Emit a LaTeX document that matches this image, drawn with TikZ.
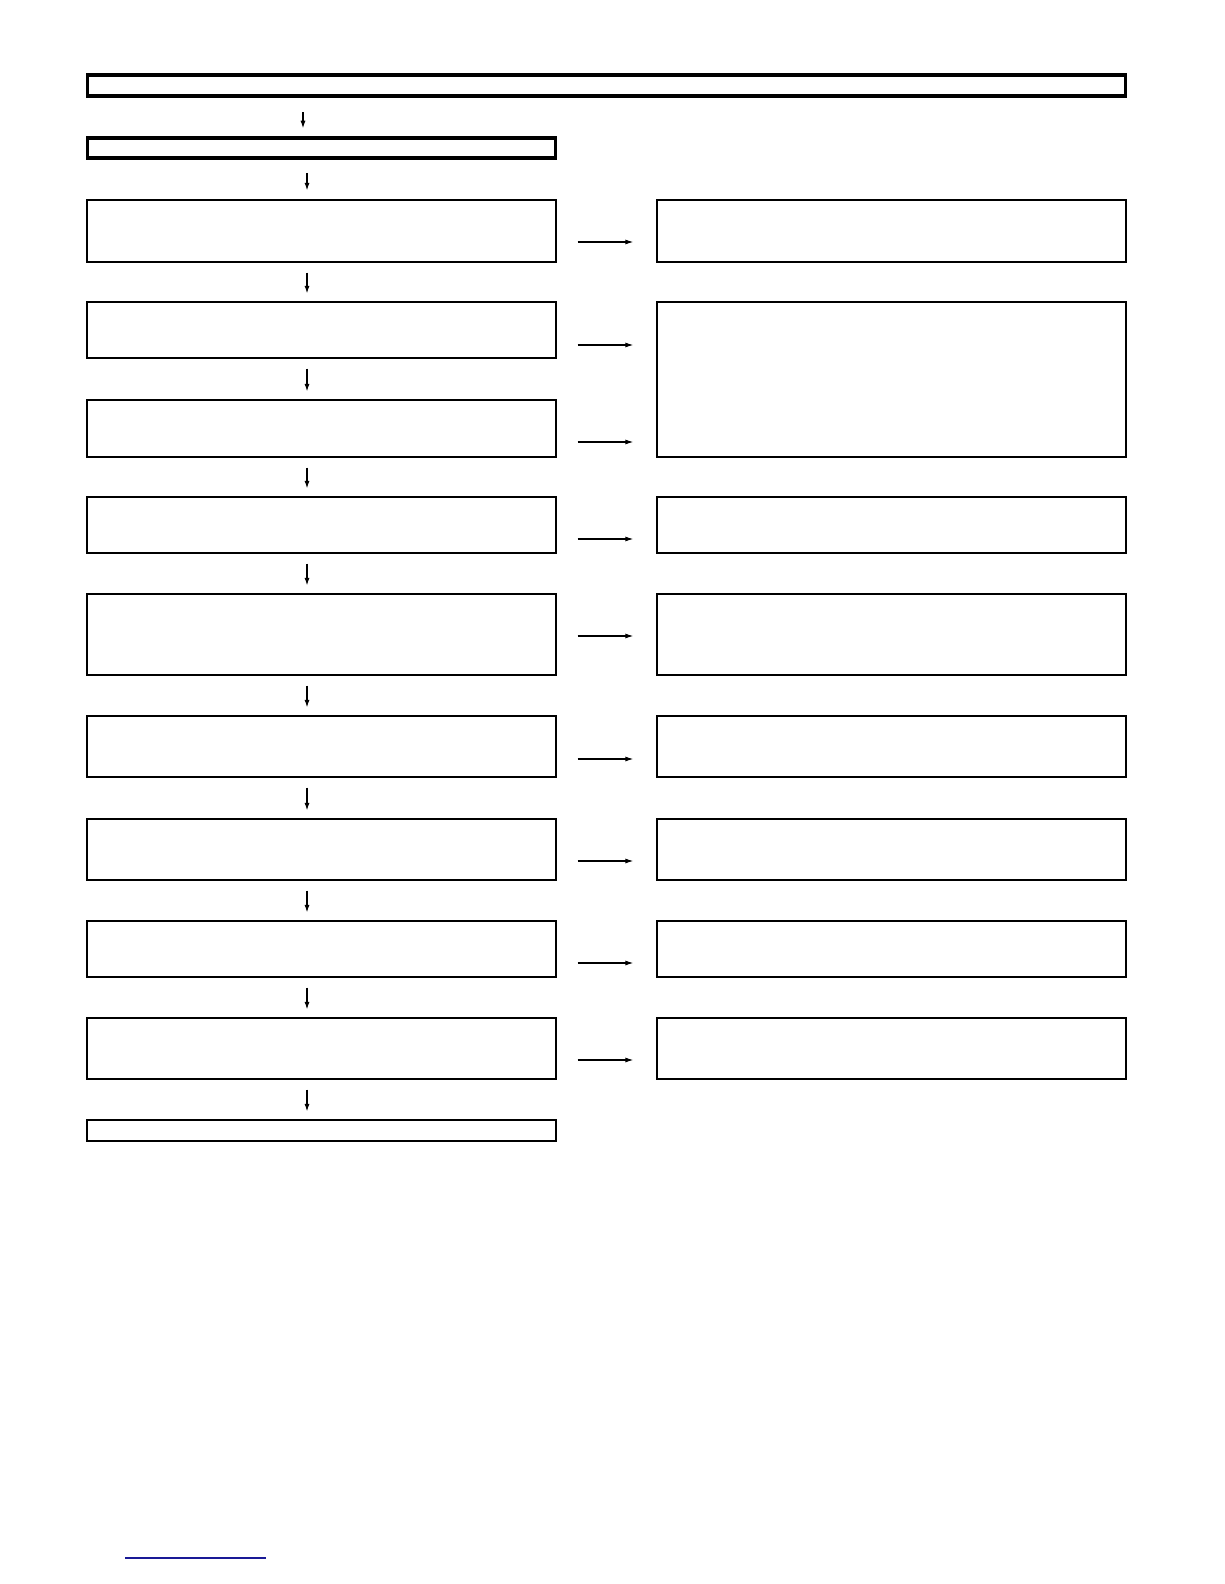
\documentclass[tikz,border=0pt]{standalone}
\usetikzlibrary{arrows, arrows.meta}
\usetikzlibrary{calc}
\definecolor{linkblue}{RGB}{25,25,150}

\begin{document}
\begin{tikzpicture}[x=0.2mm, y=-0.2mm,
    box/.style={rectangle, draw, inner sep=0pt, line width=0.25mm, minimum width=93.8mm},
    headbox/.style={rectangle, draw, inner sep=0pt, line width=0.7mm},
    down/.style={-{Latex[length=1.5mm, width=1mm]}, line width=0.22mm, shorten <=2mm, shorten >=1.6mm},
    side/.style={-{Latex[length=1.6mm, width=1mm]}, line width=0.22mm, shorten <=4.2mm, shorten >=4.6mm}]
      \useasboundingbox (0,0) rectangle (1224,1584);

      % head
      \node[headbox, minimum width=207.6mm, minimum height=4.2mm] (top) at (606.5,85.5) {};
      \node[headbox, minimum width=93.6mm, minimum height=4mm] (start) at (321.5,148) {};

      % left column
      \node[box, minimum height=12.4mm] (l1) at (321.5,231) {};
      \node[box, minimum height=11.2mm] (l2) at (321.5,330) {};
      \node[box, minimum height=11.4mm] (l3) at (321.5,428.5) {};
      \node[box, minimum height=11.2mm] (l4) at (321.5,525) {};
      \node[box, minimum height=16.2mm] (l5) at (321.5,634.5) {};
      \node[box, minimum height=12.2mm] (l6) at (321.5,746.5) {};
      \node[box, minimum height=12.2mm] (l7) at (321.5,849.5) {};
      \node[box, minimum height=11.2mm] (l8) at (321.5,949) {};
      \node[box, minimum height=12.2mm] (l9) at (321.5,1048.5) {};
      \node[box, minimum height=4.2mm] (end) at (321.5,1130.5) {};

      % right column
      \node[box, minimum height=12.4mm] (r1) at (891.5,231) {};
      \node[box, minimum height=31mm] (r2) at (891.5,379.5) {};
      \node[box, minimum height=11.2mm] (r4) at (891.5,525) {};
      \node[box, minimum height=16.2mm] (r5) at (891.5,634.5) {};
      \node[box, minimum height=12.2mm] (r6) at (891.5,746.5) {};
      \node[box, minimum height=12.2mm] (r7) at (891.5,849.5) {};
      \node[box, minimum height=11.2mm] (r8) at (891.5,949) {};
      \node[box, minimum height=12.2mm] (r9) at (891.5,1048.5) {};

      \coordinate (axis0) at (303,0);
      \coordinate (axis) at (307,0);

      \draw[down, shorten <=2.9mm] (top.south -| axis0) -- (start.north -| axis0);
      \draw[down, shorten <=2.6mm, shorten >=1.8mm] (start.south -| axis) -- (l1.north -| axis);
      \draw[down] (l1.south -| axis) -- (l2.north -| axis);
      \draw[down] (l2.south -| axis) -- (l3.north -| axis);
      \draw[down] (l3.south -| axis) -- (l4.north -| axis);
      \draw[down] (l4.south -| axis) -- (l5.north -| axis);
      \draw[down] (l5.south -| axis) -- (l6.north -| axis);
      \draw[down] (l6.south -| axis) -- (l7.north -| axis);
      \draw[down] (l7.south -| axis) -- (l8.north -| axis);
      \draw[down] (l8.south -| axis) -- (l9.north -| axis);
      \draw[down] (l9.south -| axis) -- (end.north -| axis);

      \draw[side] (l1.east |- 0,242) -- (r1.west |- 0,242);
      \draw[side] (l2.east |- 0,345) -- (r2.west |- 0,345);
      \draw[side] (l3.east |- 0,442) -- (r2.west |- 0,442);
      \draw[side] (l4.east |- 0,539) -- (r4.west |- 0,539);
      \draw[side] (l5.east |- 0,636) -- (r5.west |- 0,636);
      \draw[side] (l6.east |- 0,759) -- (r6.west |- 0,759);
      \draw[side] (l7.east |- 0,861) -- (r7.west |- 0,861);
      \draw[side] (l8.east |- 0,963) -- (r8.west |- 0,963);
      \draw[side] (l9.east |- 0,1060) -- (r9.west |- 0,1060);

      \draw[linkblue, line width=0.25mm] (125,1558) -- (266,1558);
    \end{tikzpicture}
\end{document}
